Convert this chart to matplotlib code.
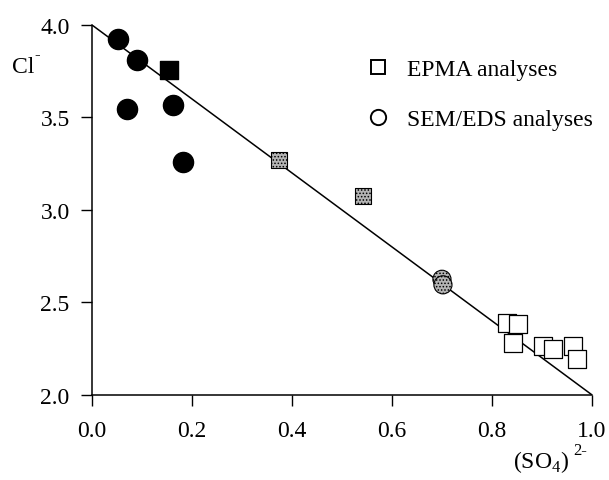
import numpy as np
import matplotlib.pyplot as plt
from matplotlib.lines import Line2D

plt.rcParams['font.family'] = ['Liberation Serif', 'DejaVu Serif']
plt.rcParams['mathtext.fontset'] = 'custom'
plt.rcParams['mathtext.rm'] = 'Liberation Serif'
plt.rcParams['hatch.linewidth'] = 0.7

# SEM/EDS, black circles
sem_x = [0.052, 0.090, 0.070, 0.162, 0.182]
sem_y = [3.924, 3.810, 3.546, 3.570, 3.260]
# SEM/EDS, grey circles
semg_x = [0.700, 0.702]
semg_y = [2.625, 2.595]
# EPMA, black square
epb_x = [0.154]
epb_y = [3.757]
# EPMA, grey squares
epg_x = [0.374, 0.542]
epg_y = [3.270, 3.076]
# EPMA, white squares
epw_x = [0.830, 0.852, 0.842, 0.902, 0.922, 0.962, 0.970]
epw_y = [2.390, 2.383, 2.280, 2.265, 2.250, 2.265, 2.195]

line_x = [0.0, 1.0]
line_y = [4.0, 2.0]

xt = np.arange(0, 1.01, 0.2)
yt = np.arange(2.0, 4.01, 0.5)

fig = plt.figure(figsize=(6.09, 4.81), dpi=100)
ax = fig.add_axes([0.151, 0.177, 0.821, 0.769])

ax.plot(line_x, line_y, color='black', lw=1.1, zorder=1)

ax.scatter(sem_x, sem_y, s=210, marker='o', color='black', zorder=3)
ax.scatter(semg_x, semg_y, s=170, marker='o', facecolor='#b4b4b4',
           edgecolor='black', hatch='.....', lw=0.8, zorder=3)
ax.scatter(epb_x, epb_y, s=150, marker='s', color='black', zorder=3)
ax.scatter(epg_x, epg_y, s=135, marker='s', facecolor='#b4b4b4',
           edgecolor='black', hatch='.....', lw=0.8, zorder=3)
ax.scatter(epw_x, epw_y, s=160, marker='s', facecolor='white',
           edgecolor='black', lw=0.9, zorder=3)

ax.set_xlim(0, 1.0)
ax.set_ylim(2.0, 4.0)
ax.set_xticks(xt)
ax.set_yticks(yt)
ax.set_xticklabels(['%.1f' % v for v in xt])
ax.set_yticklabels(['%.1f' % v for v in yt])
ax.tick_params(direction='out', length=8, width=1, labelsize=17)
ax.tick_params(axis='x', pad=10)
ax.tick_params(axis='y', pad=8)
for s in ['top', 'right']:
    ax.spines[s].set_visible(False)
for s in ['left', 'bottom']:
    ax.spines[s].set_linewidth(1.1)

fig.text(0.02, 0.848, 'Cl', fontsize=17)
fig.text(0.056, 0.878, '-', fontsize=12)
fig.text(0.843, 0.027, r'(SO$_4$)', fontsize=17)
fig.text(0.941, 0.054, '2-', fontsize=12)

handles = [Line2D([], [], ls='none', marker='s', ms=10, mfc='white', mec='black', mew=1.4),
           Line2D([], [], ls='none', marker='o', ms=11, mfc='white', mec='black', mew=1.4)]
ax.legend(handles, ['EPMA analyses', 'SEM/EDS analyses'], loc='upper left',
          bbox_to_anchor=(0.502, 0.967), frameon=False, fontsize=17,
          handletextpad=0.6, labelspacing=1.2, handlelength=1.2)

fig.savefig('out.png', dpi=100)
